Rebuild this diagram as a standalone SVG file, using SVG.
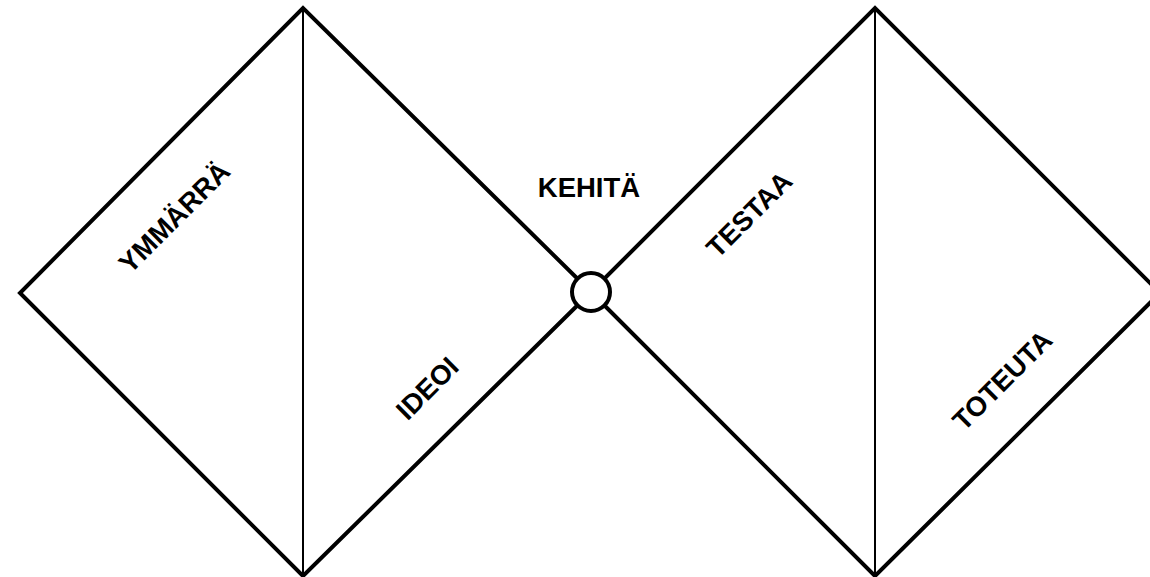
<svg xmlns="http://www.w3.org/2000/svg" width="1150" height="577" viewBox="0 0 1150 577">
<style>
.d{fill:none;stroke:#000;stroke-width:4;stroke-linejoin:miter}
.v{stroke:#000;stroke-width:2}
.t{font-family:"Liberation Sans",Arial,sans-serif;font-weight:bold;font-size:27.5px;fill:#000;text-anchor:middle}
</style>
<rect width="1150" height="577" fill="#fff"/>
<g id="connectors">
<path class="d" d="M591,292 L303,8 L20,293 L303,576 L591,292"/>
<path class="d" d="M591,292 L875,8 L1160,293 L875,576 L591,292"/>
<line class="v" x1="303" y1="8" x2="303" y2="576"/>
<line class="v" x1="875" y1="8" x2="875" y2="576"/>
</g>
<g id="hub"><circle cx="591" cy="292" r="19" fill="#fff" stroke="#000" stroke-width="4"/></g>
<g id="ymmarra"><text class="t" transform="translate(181,224) rotate(-45)">YMMÄRRÄ</text></g>
<g id="ideoi"><text class="t" transform="translate(434,395) rotate(-45)">IDEOI</text></g>
<g id="kehita"><text class="t" x="589" y="197">KEHITÄ</text></g>
<g id="testaa"><text class="t" transform="translate(756,221) rotate(-45)">TESTAA</text></g>
<g id="toteuta"><text class="t" transform="translate(1009,387) rotate(-45)">TOTEUTA</text></g>
</svg>
